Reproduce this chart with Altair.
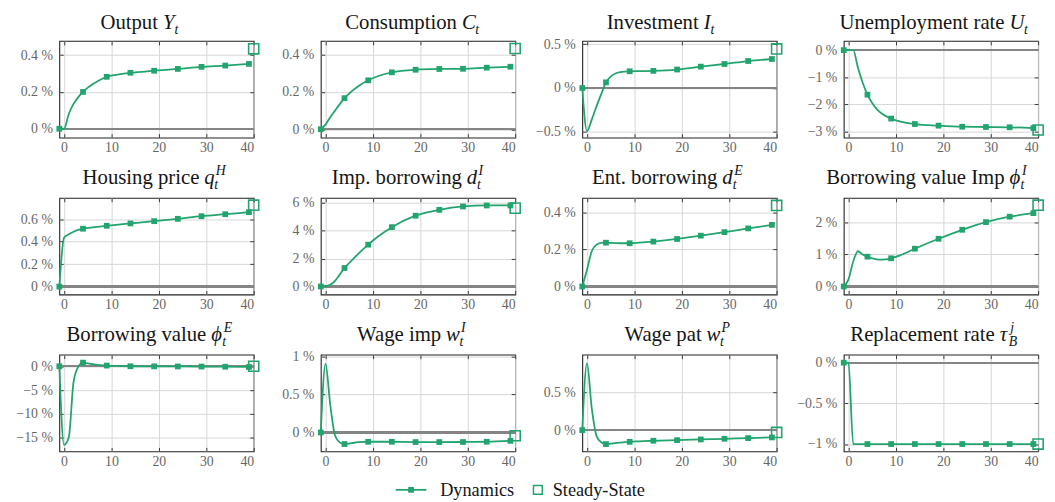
import altair as alt
import pandas as pd

GREEN = "#22a46e"
SERIF = "Liberation Serif, Times New Roman, serif"

# time axis (quarters after the shock); markers every 5 periods starting at -1
T = [-1, 0, 1, 2, 3, 4, 5, 6, 7, 9, 11, 14, 19, 24, 29, 34, 39]

output_y = [0, 0, 0.08, 0.135, 0.172, 0.2, 0.223, 0.242, 0.257, 0.282, 0.293, 0.304, 0.315, 0.325, 0.336, 0.343, 0.352]
consumption_c = [0, 0.025, 0.065, 0.1, 0.135, 0.167, 0.192, 0.214, 0.233, 0.263, 0.285, 0.306, 0.32, 0.324, 0.325, 0.331, 0.336]
investment_i = [0, -0.49, -0.36, -0.21, -0.07, 0.064, 0.13, 0.165, 0.18, 0.19, 0.192, 0.195, 0.21, 0.243, 0.273, 0.307, 0.33]
unemployment_u = [0, 0, 0, -0.65, -1.2, -1.64, -1.95, -2.18, -2.33, -2.52, -2.63, -2.72, -2.78, -2.82, -2.83, -2.84, -2.87]
housing_q = [0, 0.435, 0.465, 0.488, 0.505, 0.515, 0.522, 0.527, 0.532, 0.541, 0.55, 0.562, 0.582, 0.603, 0.626, 0.644, 0.662]
imp_borrowing = [0, 0.02, 0.12, 0.4, 0.85, 1.32, 1.68, 2.03, 2.37, 2.99, 3.55, 4.24, 5.06, 5.48, 5.72, 5.79, 5.79]
ent_borrowing = [0, 0.09, 0.19, 0.225, 0.235, 0.236, 0.235, 0.234, 0.233, 0.233, 0.236, 0.242, 0.256, 0.274, 0.293, 0.313, 0.332]
phi_imp = [0, 0.22, 0.78, 1.1, 1.0, 0.93, 0.88, 0.85, 0.84, 0.88, 0.98, 1.18, 1.49, 1.77, 2.01, 2.18, 2.29]
phi_ent = [0, -16.5, -14.9, -3.3, -0.1, 0.76, 0.6, 0.45, 0.3, 0.14, 0.06, 0.0, -0.02, -0.04, -0.06, -0.1, -0.15]
wage_imp = [0, 0.9, 0.36, -0.04, -0.13, -0.152, -0.145, -0.135, -0.128, -0.122, -0.122, -0.122, -0.126, -0.126, -0.125, -0.122, -0.11]
wage_pat = [0, 0.88, 0.29, -0.075, -0.16, -0.184, -0.178, -0.17, -0.164, -0.154, -0.148, -0.14, -0.132, -0.123, -0.114, -0.105, -0.096]
replacement = [0, 0, -1, -1, -1, -1, -1, -1, -1, -1, -1, -1, -1, -1, -1, -1, -1]

series = [output_y, consumption_c, investment_i, unemployment_u,
          housing_q, imp_borrowing, ent_borrowing, phi_imp,
          phi_ent, wage_imp, wage_pat, replacement]
steady_state = [0.434, 0.434, 0.445, -2.94, 0.724, 5.6, 0.437, 2.54, 0.0, -0.043, -0.03, -1.0]
SS_T = 40

# title pieces: upright text, italic symbol, subscript, superscript
title_text = ["Output", "Consumption", "Investment", "Unemployment rate",
              "Housing price", "Imp. borrowing", "Ent. borrowing", "Borrowing value Imp",
              "Borrowing value", "Wage imp", "Wage pat", "Replacement rate"]
title_sym = ["Y", "C", "I", "U", "q", "d", "d", "\u03d5", "\u03d5", "w", "w", "\u03c4"]
title_sub = ["t", "t", "t", "t", "t", "t", "t", "t", "t", "t", "t", "B"]
title_sup = ["", "", "", "", "H", "I", "E", "I", "E", "I", "P", "j"]

# axis layout (style)
y_domains = [[-0.048, 0.477], [-0.045, 0.475], [-0.565, 0.536], [-3.22, 0.34],
             [-0.07, 0.79], [-0.57, 6.34], [-0.043, 0.478], [-0.25, 2.77],
             [-17.85, 2.43], [-0.248, 1.02], [-0.28, 0.995], [-1.09, 0.098]]
y_ticks = [[0, 0.2, 0.4], [0, 0.2, 0.4], [-0.5, 0, 0.5], [-3, -2, -1, 0],
           [0, 0.2, 0.4, 0.6], [0, 2, 4, 6], [0, 0.2, 0.4], [0, 1, 2],
           [-15, -10, -5, 0], [0, 0.5, 1], [0, 0.5], [-1, -0.5, 0]]
x_ticks = [0, 10, 20, 30, 40]
title_split = [105, 143, 123, 168, 147, 148, 142, 168, 154, 127, 126, 158]
TFS = 21
sym_w = {"Y": 0.58, "C": 0.67, "I": 0.36, "U": 0.72, "q": 0.5, "d": 0.52,
         "\u03d5": 0.56, "w": 0.67, "\u03c4": 0.46}

W, H = 197, 98
LBL = "format(datum.value, '~g') + ' %'"
AX = dict(labelFont=SERIF, labelFontSize=14, labelColor="#666666",
          tickColor="#3a3a3a", tickSize=4, tickWidth=1, domain=False, title=None)


def panel(i):
    df = pd.DataFrame({"t": T, "v": series[i]})
    ss = pd.DataFrame({"t": [SS_T], "v": [steady_state[i]]})
    xs = alt.Scale(domain=[-1, 40], nice=False, zero=False)
    ys = alt.Scale(domain=y_domains[i], nice=False, zero=False)
    xax = alt.Axis(values=x_ticks, grid=True, offset=-4, labelPadding=3, format="d",
                   gridColor="#d6d6d6", gridWidth=1, **AX)
    yax = alt.Axis(values=y_ticks[i], grid=True, offset=-4, labelPadding=7,
                   labelExpr=LBL, gridColor="#d6d6d6", gridWidth=1, **AX)

    base = alt.Chart(df)
    zero = base.mark_rule(color="#858585", strokeWidth=1.5).encode(
        y=alt.YDatum(0, scale=ys, axis=None))
    line = base.mark_line(color=GREEN, strokeWidth=1.8, interpolate="monotone").encode(
        x=alt.X("t:Q", scale=xs, axis=xax),
        y=alt.Y("v:Q", scale=ys, axis=yax))
    marks = base.transform_filter("(datum.t + 1) % 5 == 0").mark_square(
        size=34, color=GREEN, opacity=1).encode(
        x=alt.X("t:Q", axis=None), y=alt.Y("v:Q", axis=None))
    steady = alt.Chart(ss).mark_square(size=105, filled=False, color=GREEN,
                                       strokeWidth=1.6, opacity=1).encode(
        x=alt.X("t:Q", axis=None), y=alt.Y("v:Q", axis=None))
    ticks = base.mark_point(opacity=0).encode(
        x=alt.X("t:Q", axis=alt.Axis(orient="top", values=x_ticks, labels=False,
                                     grid=False, offset=-4, **AX)),
        y=alt.Y("v:Q", axis=alt.Axis(orient="right", values=y_ticks[i], labels=False,
                                     grid=False, offset=-4, **AX)))

    one = pd.DataFrame({"k": [0]})
    split = title_split[i]
    has_sup = title_sup[i] != ""
    by = -13.5 if has_sup else -12
    tmain = alt.Chart(one).mark_text(align="right", baseline="alphabetic", font=SERIF,
                                     fontSize=TFS, color="#151515").encode(
        x=alt.value(split - 5), y=alt.value(by), text=alt.value(title_text[i]))
    tsym = alt.Chart(one).mark_text(align="left", baseline="alphabetic", font=SERIF,
                                    fontSize=TFS, fontStyle="italic", color="#151515").encode(
        x=alt.value(split), y=alt.value(by), text=alt.value(title_sym[i]))
    sx = split + sym_w[title_sym[i]] * TFS
    tsub = alt.Chart(one).mark_text(align="left", baseline="alphabetic", font=SERIF,
                                    fontSize=14, fontStyle="italic", color="#151515").encode(
        x=alt.value(sx - 0.5), y=alt.value(by + 5), text=alt.value(title_sub[i]))
    layers = [zero, line, marks, steady, ticks, tmain, tsym, tsub]
    if has_sup:
        tsup = alt.Chart(one).mark_text(align="left", baseline="alphabetic", font=SERIF,
                                        fontSize=14, fontStyle="italic", color="#151515").encode(
            x=alt.value(sx + 1), y=alt.value(by - 9.5), text=alt.value(title_sup[i]))
        layers.append(tsup)

    if i == 9:
        leg_y = H + 39
        leg = pd.DataFrame({"k": [0]})
        layers += [
            alt.Chart(leg).mark_rule(color=GREEN, strokeWidth=1.8).encode(
                x=alt.value(76), x2=alt.value(107), y=alt.value(leg_y)),
            alt.Chart(leg).mark_square(size=34, color=GREEN, opacity=1).encode(
                x=alt.value(91.5), y=alt.value(leg_y)),
            alt.Chart(leg).mark_text(align="left", baseline="middle", font=SERIF,
                                     fontSize=18.5, color="#151515").encode(
                x=alt.value(121), y=alt.value(leg_y), text=alt.value("Dynamics")),
            alt.Chart(leg).mark_square(size=80, filled=False, color=GREEN,
                                       strokeWidth=1.5, opacity=1).encode(
                x=alt.value(220), y=alt.value(leg_y)),
            alt.Chart(leg).mark_text(align="left", baseline="middle", font=SERIF,
                                     fontSize=18.5, color="#151515").encode(
                x=alt.value(235), y=alt.value(leg_y), text=alt.value("Steady-State")),
        ]

    return alt.layer(*layers).resolve_axis(x="independent", y="independent").properties(
        width=W, height=H)


chart = alt.concat(*[panel(i) for i in range(12)], columns=4,
                   spacing={"row": 61, "column": 68}, bounds="flush").resolve_scale(
    x="independent", y="independent").properties(
    padding={"left": 7, "top": 0, "right": 0, "bottom": 0}
).configure_view(stroke="#222222", strokeWidth=1.1).configure_axis(
    labelFont=SERIF, labelFontSize=14, labelColor="#666666",
    tickColor="#3a3a3a", tickSize=4, tickWidth=1,
    gridColor="#d6d6d6", gridWidth=1, domain=False, title=None)

chart.save("out.html", embed_options={"renderer": "svg", "actions": False})
